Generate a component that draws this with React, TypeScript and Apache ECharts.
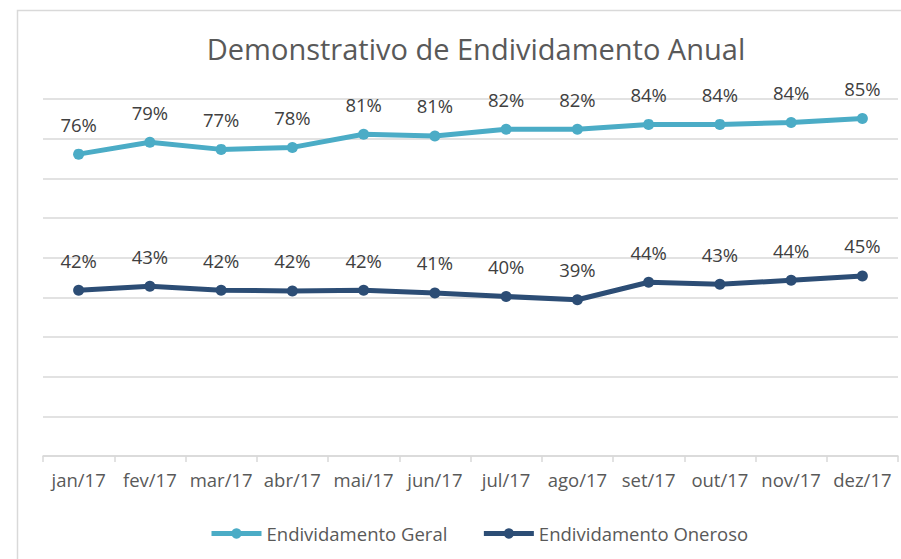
import React, { useEffect, useRef } from "react";
import * as echarts from "echarts";

const categories = ["jan/17", "fev/17", "mar/17", "abr/17", "mai/17", "jun/17", "jul/17", "ago/17", "set/17", "out/17", "nov/17", "dez/17"];
const endividamentoGeral = [76.1, 79.1, 77.3, 77.8, 81.1, 80.7, 82.4, 82.4, 83.6, 83.6, 84.1, 85.1];
const endividamentoOneroso = [41.8, 42.8, 41.8, 41.6, 41.8, 41.1, 40.2, 39.4, 43.8, 43.3, 44.3, 45.4];
const seriesNames = ["Endividamento Geral", "Endividamento Oneroso"];
const titleText = "Demonstrativo de Endividamento Anual";

const FONT = "'Open Sans', sans-serif";

export default function App() {
  const ref = useRef<HTMLDivElement>(null);
  useEffect(() => {
    if (!ref.current) return;
    const chart = echarts.init(ref.current, undefined, { renderer: "svg" });
    const label = {
      show: true,
      position: "top" as const,
      distance: 15,
      fontFamily: FONT,
      fontSize: 18.5,
      color: "#404040",
      formatter: (p: any) => Math.round(p.value) + "%",
    };
    chart.setOption({
      animation: false,
      backgroundColor: "#ffffff",
      title: {
        text: titleText,
        left: 471,
        textAlign: "center",
        top: 29,
        textStyle: { fontFamily: FONT, fontSize: 29, fontWeight: "normal", color: "#595959" },
      },
      graphic: [
        {
          type: "rect",
          shape: { x: 17.5, y: 10.5, width: 900, height: 600 },
          style: { fill: "none", stroke: "#d9d9d9", lineWidth: 1.5 },
          silent: true,
        },
      ],
      legend: {
        data: seriesNames,
        left: 204,
        top: 519,
        itemWidth: 50,
        itemHeight: 13,
        itemGap: 34,
        lineStyle: { width: 5 },
        textStyle: { fontFamily: FONT, fontSize: 18.5, color: "#595959" },
      },
      grid: { left: 43, right: 3, top: 99, bottom: 103, containLabel: false },
      xAxis: {
        type: "category",
        data: categories,
        boundaryGap: true,
        axisLine: { lineStyle: { color: "#d9d9d9", width: 1.5 } },
        axisTick: { show: true, length: 6, lineStyle: { color: "#d9d9d9", width: 1.5 } },
        axisLabel: { interval: 0, fontFamily: FONT, fontSize: 18.5, color: "#595959", margin: 14 },
      },
      yAxis: {
        type: "value",
        min: 0,
        max: 90,
        interval: 10,
        axisLabel: { show: false },
        axisLine: { show: false },
        axisTick: { show: false },
        splitLine: { lineStyle: { color: "#d9d9d9", width: 1.5 } },
      },
      series: [
        {
          name: seriesNames[0],
          type: "line",
          data: endividamentoGeral,
          symbol: "circle",
          symbolSize: 11,
          lineStyle: { width: 5, color: "#4BACC6" },
          itemStyle: { color: "#4BACC6" },
          label,
        },
        {
          name: seriesNames[1],
          type: "line",
          data: endividamentoOneroso,
          symbol: "circle",
          symbolSize: 11,
          lineStyle: { width: 5, color: "#2C4D75" },
          itemStyle: { color: "#2C4D75" },
          label,
        },
      ],
    });
    return () => chart.dispose();
  }, []);
  return (
    <div
      ref={ref}
      style={{ position: "fixed", left: 0, top: 0, width: 901, height: 559 }}
    />
  );
}
